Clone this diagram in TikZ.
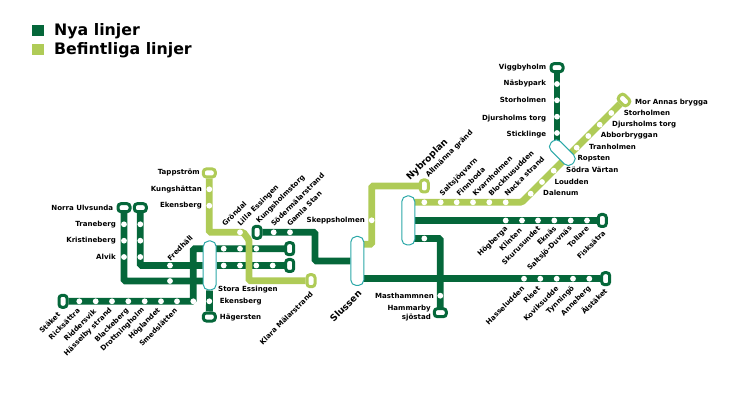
\documentclass[tikz,border=0pt]{standalone}
\usepackage{xcolor}
\usepackage{fontspec}
\setmainfont{DejaVu Sans}[BoldFont={DejaVu Sans Bold}]
\definecolor{nygron}{HTML}{05673A}
\definecolor{ljusgron}{HTML}{AFCB57}
\definecolor{bytesblå}{HTML}{2BA8A8}
\pgfdeclarelayer{linjer}
\pgfsetlayers{linjer,main}
\tikzset{
  nylinje/.style={draw=nygron, line width=6.8pt, rounded corners=1.5pt},
  befintlig/.style={draw=ljusgron, line width=6.8pt, rounded corners=1.5pt},
  termny/.style={draw=nygron, fill=white, line width=3pt, rounded corners=3pt, inner sep=0pt, minimum width=12pt, minimum height=8pt},
  termljus/.style={termny, draw=ljusgron},
  byte/.style={draw=bytesblå, fill=white, line width=1pt, rounded corners=5.5pt, inner sep=0pt, minimum width=13pt, minimum height=49pt},
  stopp/.style={circle, fill=white, inner sep=0pt, minimum size=5.8pt},
  namn/.style={text=black, font=\fontsize{7.05}{8.4}\selectfont\bfseries, inner sep=0pt},
  namnstor/.style={text=black, font=\fontsize{9.2}{10}\selectfont\bfseries, inner sep=0pt},
  uppat/.style={rotate=45, anchor=west},
  nedat/.style={rotate=45, anchor=east}
}

\begin{document}
\begin{tikzpicture}[x=1pt, y=-1pt]
  \useasboundingbox (0,0) rectangle (746,419);

  % Legend
  \fill[nygron] (32.3,25) rectangle ++(12,11.5);
  \fill[ljusgron] (32.3,44) rectangle ++(12,11.5);
  \node[namn, anchor=west, font=\fontsize{15.8}{17}\selectfont\bfseries] (nya) at (54,31.7) {Nya linjer};
  \node[namn, anchor=west, font=\fontsize{15.8}{17}\selectfont\bfseries] (befintliga) at (54,50.7) {Befintliga linjer};

  % Interchanges
  \node[byte] (essingen) at (209.7,265.5) {};
  \node[byte] (slussen) at (357.3,261) {};
  \node[byte] (nacka) at (408.3,220.5) {};
  \node[byte, rotate=-45, minimum width=30pt, minimum height=13pt] (ropsten) at (562.3,152.7) {};

  % Line ends
  \node[termny] (ulvsunda) at (124,207.7) {};
  \node[termny] (bromma) at (140.3,207.7) {};
  \node[termny, minimum width=8pt, minimum height=12pt] (staket) at (63,301.3) {};
  \node[termny] (hagersten) at (209.3,317) {};
  \node[termny, minimum width=8pt, minimum height=12pt] (ovre) at (289.7,248.7) {};
  \node[termny, minimum width=8pt, minimum height=12pt] (nedre) at (289.7,265.5) {};
  \node[termny, minimum width=8pt, minimum height=12pt] (kungsholm) at (257,232.3) {};
  \node[termny] (hammarby) at (440.3,312.7) {};
  \node[termny, minimum width=8pt, minimum height=12pt] (fisksatra) at (602.3,220.5) {};
  \node[termny, minimum width=8pt, minimum height=12pt] (alstaket) at (605.7,278.7) {};
  \node[termny] (viggby) at (557,67.7) {};
  \node[termljus] (tappstrom) at (209.3,173) {};
  \node[termljus, minimum width=8pt, minimum height=12pt] (klara) at (311,280.7) {};
  \node[termljus, minimum width=8pt, minimum height=12pt] (allmanna) at (424.3,186) {};
  \node[termljus, rotate=-45] (morannas) at (624,100) {};

  % Corners
  \coordinate (ulvknee) at (124,281);
  \coordinate (fork) at (193.3,301.3);
  \coordinate (gamlaknee) at (315,261);
  \coordinate (masthook) at (440.3,238.5);
  \coordinate (grondal) at (243.3,232.3);
  \coordinate (lilla) at (249,240);
  \coordinate (skeppknee) at (371.7,244.3);
  \coordinate (dalaro) at (521.7,202.3);

  % Lines
  \begin{pgfonlayer}{linjer}
    \draw[nylinje] (ulvsunda) -- (ulvknee) -- (ulvknee -| essingen);
    \draw[nylinje] (bromma) |- (essingen);
    \draw[nylinje] (essingen) -- (nedre);
    \draw[nylinje] (staket) -- (fork) |- (ovre);
    \draw[nylinje] (essingen) -- (hagersten);
    \draw[nylinje] (kungsholm) -| (gamlaknee) -- (slussen);
    \draw[nylinje] (alstaket -| slussen) -- (alstaket);
    \draw[nylinje] (nacka) -- (fisksatra);
    \draw[nylinje] (masthook -| nacka) -- (masthook) -- (hammarby);
    \draw[nylinje] (viggby) -- (viggby |- ropsten);
    \draw[befintlig] (tappstrom) |- (grondal) -- (lilla) |- (klara);
    \draw[befintlig] (skeppknee -| slussen) -- (skeppknee) |- (allmanna);
    \draw[befintlig] (dalaro -| nacka) -- (dalaro) -- (morannas);
  \end{pgfonlayer}

  % Stops
  \foreach \x/\y [count=\i] in {124/224.3, 124/240.7, 124/257, 140.3/224.3, 140.3/240.7, 140.3/257,
    170/265.5, 170/281, 79.3/301.3, 95.7/301.3, 112/301.3, 128.3/301.3, 144.7/301.3, 161/301.3, 177/301.3, 193.3/301.3,
    209.3/301.3, 209.3/189.3, 209.3/205.7, 240/232.3, 223.7/248.7, 240/248.7, 256.3/248.7,
    223.7/265.5, 240/265.5, 256.3/265.5, 272.7/265.5, 273.7/232.3, 290/232.3, 371.7/220.3,
    424.3/202.3, 440.7/202.3, 456.7/202.3, 473/202.3, 489.3/202.3, 505.7/202.3,
    530.7/193.7, 542/182, 553.7/170.7, 576.7/147.7, 588.3/136, 599.7/124.7, 611.3/113,
    505.7/220.5, 522/220.5, 538/220.5, 554.3/220.5, 570.7/220.5, 587/220.5,
    524/278.7, 540.3/278.7, 556.7/278.7, 573/278.7, 589.3/278.7,
    424.3/238.5, 440.3/295.7, 557/84, 557/100.3, 557/116.7, 557/133}
    \node[stopp] (s\i) at (\x,\y) {};

  % Labels to the left
  \foreach \x/\y/\t [count=\i] in {113.3/208/Norra Ulvsunda, 116/224.3/Traneberg, 116/240.7/Kristineberg, 116/257/Alvik,
    200/173/Tappström, 202/189.3/Kungshättan, 202/205.7/Ekensberg, 365/220.7/Skeppsholmen, 434/296/Masthammnen,
    546.3/67.7/Viggbyholm, 546.3/84/Näsbypark, 546.3/100.3/Storholmen, 546.3/119/Djursholms torg, 546.3/135/Sticklinge}
    \node[namn, anchor=east] (v\i) at (\x,\y) {\t};
  \node[namn, anchor=east, align=right] (hammarbytext) at (431,313) {Hammarby\\sjöstad};

  % Labels to the right
  \foreach \x/\y/\t [count=\i] in {218/289.3/Stora Essingen, 219.7/301.3/Ekensberg, 219.7/317.3/Hägersten,
    635/103/Mor Annas brygga, 623.7/113/Storholmen, 612/124.3/Djursholms torg, 600.7/136/Abborbryggan,
    589/147.3/Tranholmen, 577.3/159/Ropsten, 566/170.3/Södra Värtan, 554.3/182/Loudden, 543/193.3/Dalenum}
    \node[namn, anchor=west] (h\i) at (\x,\y) {\t};

  % Labels going up
  \foreach \x/\y/\t [count=\i] in {168.5/259.5/Fredhäll, 223/225/Gröndal, 239/225/Lilla Essingen, 257.5/222.5/Kungsholmstorg,
    272/225/Södermälarstrand, 288/225/Gamla Stan, 427/176.5/Allmänna gränd, 441/195/Saltsjöqvarn, 457.5/195/Finnboda,
    473.5/195/Kvarnholmen, 489.5/195/Blockhusudden, 505.7/195/Nacka strand}
    \node[namn, uppat] (u\i) at (\x,\y) {\t};

  % Labels going down
  \foreach \x/\y/\t [count=\i] in {59/313.3/Stäket, 78.7/309.3/Ricksättra, 95/310/Riddersvik, 111/309.3/Hässelby strand,
    127.7/309.7/Blackeberg, 143.3/309.3/Drottningholm, 159.3/309.3/Höglandet, 176/309.3/Smedslätten,
    311.7/292.7/Klara Mälarstrand, 506.7/227.7/Högberga, 520.7/229.3/Klinten, 539/227.3/Skurusundet, 555/227.3/Eknäs,
    571/227.3/Saltsjö-Duvnäs, 587.7/227.3/Tollare, 604.3/231.7/Fisksätra, 523.3/287.3/Hasseludden, 539/287.3/Riset,
    557.3/287.3/Koviksudde, 573.3/287.3/Tynningö, 590/287.3/Anneberg, 605.7/289.3/Älstäket}
    \node[namn, nedat] (d\i) at (\x,\y) {\t};

  \node[namnstor, nedat] (slussentext) at (360,291.7) {Slussen};
  \node[namnstor, uppat] (nybroplan) at (408.3,179) {Nybroplan};
\end{tikzpicture}
\end{document}
